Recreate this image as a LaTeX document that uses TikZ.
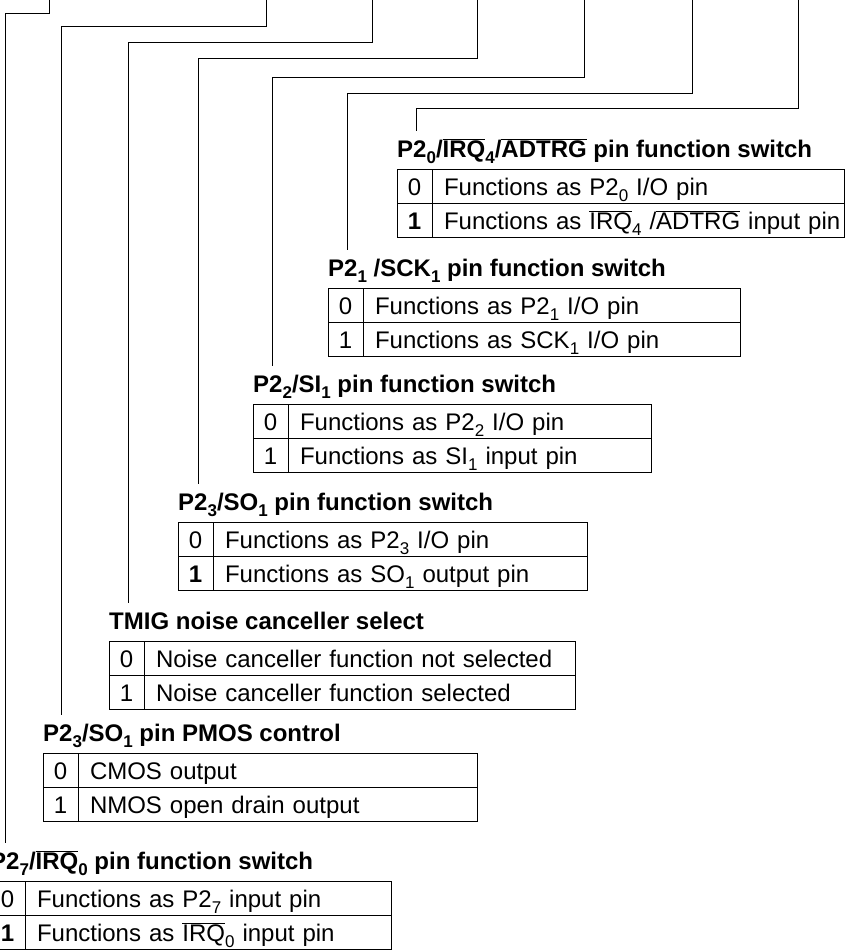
\documentclass[tikz,border=0pt]{standalone}
\usepackage{fontspec}
\setmainfont{Liberation Sans}
\usetikzlibrary{calc}
\newcommand{\ovl}[1]{$\overline{\mbox{#1}}$}
\newcommand{\lo}[1]{\raisebox{-6pt}{\fontsize{17}{17}\selectfont#1}}

\begin{document}
\begin{tikzpicture}[x=1pt,y=-1pt,
    ttl/.style={anchor=base west,inner xsep=0pt,inner ysep=8pt,text height=18pt,
      text depth=4pt,font=\fontsize{24}{28}\selectfont\bfseries},
    bitcell/.style={draw,line width=0.9pt,anchor=north west,outer sep=0pt,inner sep=0pt,
      minimum width=35pt,minimum height=34pt,text height=19pt,text depth=1pt,
      font=\fontsize{24}{28}\selectfont},
    txtcell/.style={draw,line width=0.9pt,anchor=north west,outer sep=0pt,inner xsep=12pt,
      inner ysep=0pt,text width=#1,align=left,minimum height=34pt,text height=19pt,
      text depth=1pt,font=\fontsize{24}{28}\selectfont,
      execute at begin node={\leavevmode\hbox\bgroup},execute at end node={\egroup}},
    wire/.style={line width=0.9pt}
  ]
    \useasboundingbox (0,0) rectangle (845,950);

    % P2_0 / IRQ4 / ADTRG
    \node[bitcell] (t1a) at (397,169) {0};
    \node[txtcell=388pt] (t1b) at (t1a.north east) {Functions as P2\lo{0} I/O pin};
    \node[bitcell] (t1c) at (t1a.south west) {\textbf{1}};
    \node[txtcell=388pt] (t1d) at (t1c.north east) {Functions as \ovl{IRQ}\lo{4} /\ovl{ADTRG} input pin};
    \node[ttl] (t1) at ($(t1a.north west)+(0,-12)$) {P2\lo{0}/\ovl{IRQ}\lo{4}/\ovl{ADTRG} pin function switch};

    % P2_1 / SCK1
    \node[bitcell] (t2a) at (328,288) {0};
    \node[txtcell=353pt] (t2b) at (t2a.north east) {Functions as P2\lo{1} I/O pin};
    \node[bitcell] (t2c) at (t2a.south west) {1};
    \node[txtcell=353pt] (t2d) at (t2c.north east) {Functions as SCK\lo{1} I/O pin};
    \node[ttl] (t2) at ($(t2a.north west)+(0,-12)$) {P2\lo{1} /SCK\lo{1} pin function switch};

    % P2_2 / SI1
    \node[bitcell] (t3a) at (253,404) {0};
    \node[txtcell=339pt] (t3b) at (t3a.north east) {Functions as P2\lo{2} I/O pin};
    \node[bitcell] (t3c) at (t3a.south west) {1};
    \node[txtcell=339pt] (t3d) at (t3c.north east) {Functions as SI\lo{1} input pin};
    \node[ttl] (t3) at ($(t3a.north west)+(0,-12)$) {P2\lo{2}/SI\lo{1} pin function switch};

    % P2_3 / SO1
    \node[bitcell] (t4a) at (178,522) {0};
    \node[txtcell=350pt] (t4b) at (t4a.north east) {Functions as P2\lo{3} I/O pin};
    \node[bitcell] (t4c) at (t4a.south west) {\textbf{1}};
    \node[txtcell=350pt] (t4d) at (t4c.north east) {Functions as SO\lo{1} output pin};
    \node[ttl] (t4) at ($(t4a.north west)+(0,-12)$) {P2\lo{3}/SO\lo{1} pin function switch};

    % TMIG
    \node[bitcell] (t5a) at (109,641) {0};
    \node[txtcell=407pt] (t5b) at (t5a.north east) {Noise canceller function not selected};
    \node[bitcell] (t5c) at (t5a.south west) {1};
    \node[txtcell=407pt] (t5d) at (t5c.north east) {Noise canceller function selected};
    \node[ttl] (t5) at ($(t5a.north west)+(0,-12)$) {TMIG noise canceller select};

    % PMOS control
    \node[bitcell] (t6a) at (43,753) {0};
    \node[txtcell=375pt] (t6b) at (t6a.north east) {CMOS output};
    \node[bitcell] (t6c) at (t6a.south west) {1};
    \node[txtcell=375pt] (t6d) at (t6c.north east) {NMOS open drain output};
    \node[ttl] (t6) at ($(t6a.north west)+(0,-12)$) {P2\lo{3}/SO\lo{1} pin PMOS control};

    % P2_7 / IRQ0
    \node[bitcell] (t7a) at (-10,881) {0};
    \node[txtcell=342pt] (t7b) at (t7a.north east) {Functions as P2\lo{7} input pin};
    \node[bitcell] (t7c) at (t7a.south west) {\textbf{1}};
    \node[txtcell=342pt] (t7d) at (t7c.north east) {Functions as \ovl{IRQ}\lo{0} input pin};
    \node[ttl] (t7) at ($(t7a.north west)+(0,-12)$) {P2\lo{7}/\ovl{IRQ}\lo{0} pin function switch};

    % bit lines from the register above
    \foreach \rx/\hy/\lx/\t in {49/13/5/t7,266/26/61/t6,372/42/128/t5,477/58/198/t4,
        584/77/272/t3,692/93/347/t2,798/108/416/t1}
      \draw[wire] (\rx,-5) |- (\lx,\hy) -- (\lx,\hy |- \t.north);
  \end{tikzpicture}
\end{document}
